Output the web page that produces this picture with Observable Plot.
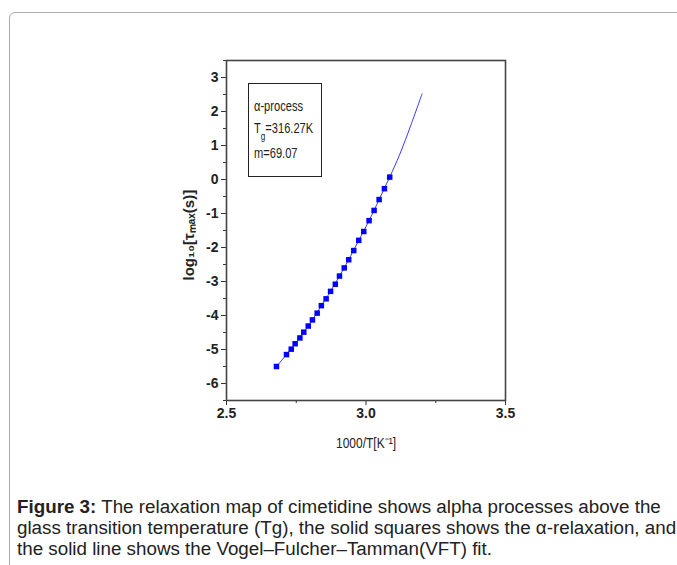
<!DOCTYPE html>
<html>
<head>
<meta charset="utf-8">
<script src="https://cdn.jsdelivr.net/npm/d3@7"></script>
<script src="https://cdn.jsdelivr.net/npm/@observablehq/plot@0.6"></script>
<style>
  html, body { margin: 0; padding: 0; background: #fff; width: 677px; height: 565px; overflow: hidden; }
  #page { position: relative; width: 677px; height: 565px; overflow: hidden; }
  #border { position: absolute; left: 9px; top: 12px; width: 720px; height: 620px; border: 1px solid #aaa; border-radius: 6px; }
  #chart { position: absolute; left: 0; top: 0; }
  #legend { position: absolute; left: 248px; top: 83px; width: 72px; height: 92px; border: 1.5px solid #222; background: #fff;
    font-family: "Liberation Sans", Arial, sans-serif; font-size: 15px; color: #222; }
  #legend div { position: absolute; left: 5px; white-space: nowrap; transform: scaleX(0.74); transform-origin: 0 0; }
  #caption { position: absolute; left: 17px; top: 496px; width: 720px; font-family: "Liberation Sans", Arial, sans-serif;
    font-size: 18.8px; line-height: 21px; color: #222; white-space: nowrap; }
</style>
</head>
<body>
<div id="page">
  <div id="border"></div>
  <div id="chart"></div>
  <div id="legend">
    <div style="top:13px">α-process</div>
    <div style="top:35px">T<sub style="font-size:11px;vertical-align:-7px">g</sub>=316.27K</div>
    <div style="top:60px">m=69.07</div>
  </div>
  <div id="caption"><b>Figure 3:</b> The relaxation map of cimetidine shows alpha processes above the<br>glass transition temperature (Tg), the solid squares shows the α-relaxation, and<br>the solid line shows the Vogel–Fulcher–Tamman(VFT) fit.</div>
</div>
<script>
// Measured α-relaxation points (1000/T, log10 τmax)
const invT = [2.679, 2.715, 2.732, 2.746, 2.763, 2.777, 2.793, 2.808, 2.825, 2.840, 2.857, 2.873,
              2.890, 2.905, 2.922, 2.938, 2.956, 2.974, 2.992, 3.011, 3.029, 3.047, 3.066, 3.085];
const logTau = [-5.50, -5.15, -4.99, -4.83, -4.66, -4.49, -4.31, -4.13, -3.93, -3.71, -3.51, -3.29,
                -3.08, -2.84, -2.60, -2.36, -2.09, -1.79, -1.53, -1.21, -0.91, -0.59, -0.27, 0.07];
// VFT fit curve
const fitX = [2.679, 2.715, 2.746, 2.777, 2.808, 2.840, 2.873, 2.905, 2.938, 2.974, 3.011, 3.047, 3.085, 3.120, 3.160, 3.201];
const fitY = [-5.50, -5.15, -4.83, -4.49, -4.13, -3.71, -3.29, -2.84, -2.36, -1.79, -1.21, -0.59, 0.07, 0.72, 1.58, 2.52];
const xTicks = [2.5, 3.0, 3.5];
const xMinor = [2.75, 3.25];
const yTicks = [-6, -5, -4, -3, -2, -1, 0, 1, 2, 3];
const yMinor = [-6.5, -5.5, -4.5, -3.5, -2.5, -1.5, -0.5, 0.5, 1.5, 2.5, 3.5];

const points = invT.map((x, i) => ({x, y: logTau[i]}));
const fit = fitX.map((x, i) => ({x, y: fitY[i]}));

const chart = Plot.plot({
  width: 677,
  height: 470,
  marginLeft: 226,
  marginRight: 172,
  marginTop: 60,
  marginBottom: 70,
  style: {fontFamily: "Liberation Sans, Arial, sans-serif", background: "transparent"},
  x: {domain: [2.5, 3.5]},
  y: {domain: [-6.5, 3.5]},
  marks: [
    Plot.axisX({ticks: xTicks, tickSize: 5, tickPadding: 3, tickFormat: d => d.toFixed(1), fontSize: 14, fontWeight: "bold", label: null, stroke: "#333", color: "#222"}),
    Plot.axisX({ticks: xMinor, tickSize: 3, tickFormat: null, text: null, label: null, stroke: "#333"}),
    Plot.axisY({ticks: yTicks, tickSize: 5, tickPadding: 3, tickFormat: d => String(d), fontSize: 14, fontWeight: "bold", label: null, stroke: "#333", color: "#222"}),
    Plot.axisY({ticks: yMinor, tickSize: 3, text: null, label: null, stroke: "#333"}),
    Plot.frame({stroke: "#444", strokeWidth: 1.6}),
    Plot.line(fit, {x: "x", y: "y", stroke: "#3a3aff", strokeWidth: 1, curve: "catmull-rom"}),
    Plot.dot(points, {x: "x", y: "y", symbol: "square", r: 3.1, fill: "#0000ff", stroke: "none"}),
    Plot.text(["1000/T[K⁻¹]"], {frameAnchor: "bottom", dy: 47, fontSize: 15, fill: "#222"}),
    Plot.text(["log₁₀[τₘₐₓ(s)]"], {frameAnchor: "left", dx: -37, dy: 50, rotate: -90, fontSize: 15, fontWeight: "bold", fill: "#222"})
  ]
});
document.getElementById("chart").appendChild(chart);
// condense the x-axis title like the original narrow face
d3.select(chart).selectAll("text").filter(function() { return this.textContent === "1000/T[K⁻¹]"; })
  .attr("textLength", 60).attr("lengthAdjust", "spacingAndGlyphs");
</script>
</body>
</html>
